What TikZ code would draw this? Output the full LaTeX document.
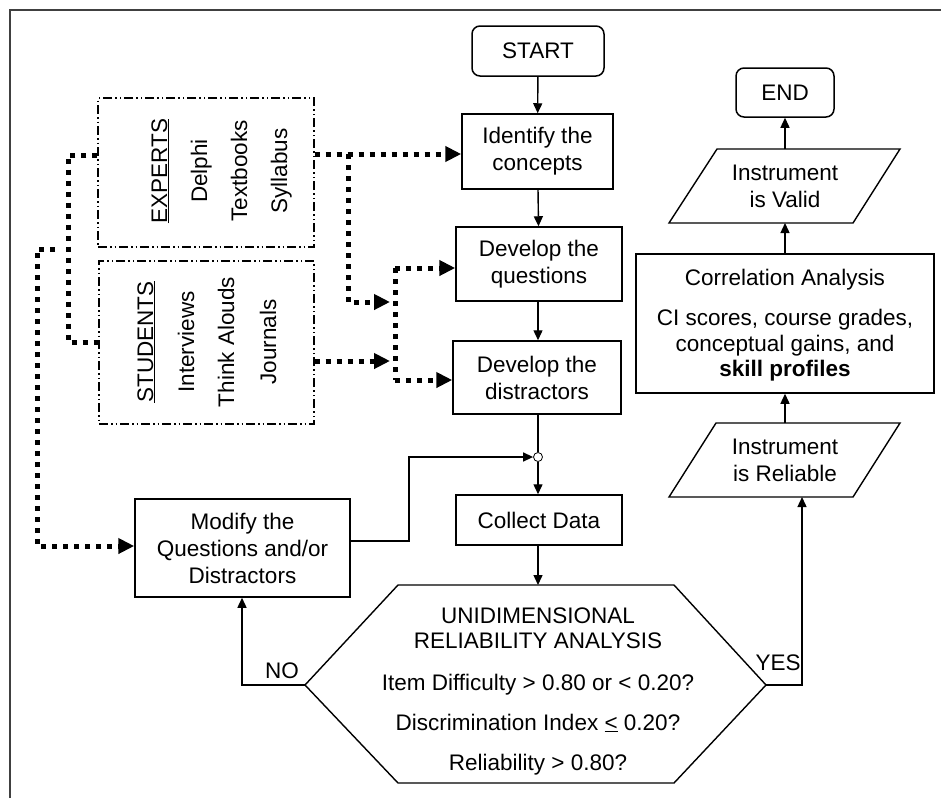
\documentclass[tikz,border=0pt]{standalone}
\usepackage{fontspec}
\setmainfont{Liberation Sans}
\usetikzlibrary{arrows.meta}
\begin{document}
\begin{tikzpicture}[x=1pt,y=-1pt,
  txt/.style={font=\fontsize{22.5}{27}\selectfont, inner sep=0pt, align=center},
  fbox/.style={txt, draw, line width=1.5pt},
  dbox/.style={draw, line width=1.4pt, dash pattern=on 9pt off 3pt on 1.5pt off 3pt on 1.5pt off 3pt},
  conn/.style={line width=1.4pt, -{Triangle[length=10pt,width=9pt]}},
  plainconn/.style={line width=1.4pt},
  dotc/.style={line width=5pt, dash pattern=on 5pt off 6pt},
  dotarr/.style={dotc, -{Triangle[length=16pt,width=15pt]}},
  rtxt/.style={font=\fontsize{22.5}{27}\selectfont, inner sep=0pt, rotate=90, anchor=base},
  shp/.style={draw, line width=1.4pt, line join=miter}
]
\useasboundingbox (0,0) rectangle (941,798);
% frame
\draw[line width=2pt, black!75] (10,798) -- (10,10) -- (941,10);

% left column boxes
\node[fbox, rounded corners=8pt, minimum width=132pt, minimum height=50pt] (start) at (538,51) {START};
\node[fbox, minimum width=151pt, minimum height=75pt] (ident) at (537.5,151.5) {Identify the\\concepts};
\node[fbox, minimum width=166pt, minimum height=74pt] (quest) at (539,264) {Develop the\\questions};
\node[fbox, minimum width=168pt, minimum height=73pt] (distr) at (537,377.5) {Develop the\\distractors};
\node[draw, circle, fill=white, line width=0.8pt, minimum size=9pt, inner sep=0pt] (junc) at (538,457) {};
\node[fbox, minimum width=166pt, minimum height=50pt] (collect) at (539,520) {Collect Data};
\node[fbox, minimum width=215pt, minimum height=98pt] (modify) at (242.5,548) {Modify the\\Questions and/or\\Distractors};

% hexagon
\coordinate (hl) at (305,685);
\coordinate (htl) at (398,585);
\coordinate (htr) at (674,585);
\coordinate (hr) at (766,685);
\coordinate (hbr) at (674,783);
\coordinate (hbl) at (398,783);
\draw[shp] (hl) -- (htl) -- (htr) -- (hr) -- (hbr) -- (hbl) -- cycle;
\coordinate (htop) at (538,585);
\node[txt, anchor=base] (h1) at (538,623) {UNIDIMENSIONAL};
\node[txt, anchor=base] (h2) at (538,648) {RELIABILITY ANALYSIS};
\node[txt, anchor=base] (h3) at (538,690) {Item Difficulty > 0.80 or < 0.20?};
\node[txt, anchor=base] (h4) at (538,730) {Discrimination Index \underline{<} 0.20?};
\node[txt, anchor=base] (h5) at (538,770) {Reliability > 0.80?};

% right column
\node[fbox, rounded corners=8pt, minimum width=98pt, minimum height=49pt] (end) at (785,92.5) {END};
\draw[shp] (717,149) -- (900,149) -- (853,223) -- (669,223) -- cycle;
\node[txt] (valid) at (785,186) {Instrument\\is Valid};
\coordinate (validtop) at (785,149);
\coordinate (validbot) at (785,223);
\node[draw, line width=1.5pt, minimum width=298pt, minimum height=139pt] (corr) at (785,323.5) {};
\node[txt, anchor=base] (c1) at (785,285) {Correlation Analysis};
\node[txt, anchor=base] (c2) at (785,325) {CI scores, course grades,};
\node[txt, anchor=base] (c3) at (785,351) {conceptual gains, and};
\node[txt, anchor=base, font=\fontsize{22.5}{27}\selectfont\bfseries] (c4) at (785,376) {skill profiles};
\draw[shp] (716,423) -- (900,423) -- (853,497) -- (669,497) -- cycle;
\node[txt] (reliable) at (785,460) {Instrument\\is Reliable};
\coordinate (reltop) at (785,423);
\coordinate (relbot) at (802,497);

% solid connectors
\draw[conn] (start) -- (ident);
\draw[conn] (ident) -- (quest);
\draw[conn] (quest.south -| junc) -- (distr.north -| junc);
\draw[plainconn] (distr.south -| junc) -- (junc);
\draw[conn] (junc) -- (collect.north -| junc);
\draw[conn] (collect.south -| junc) -- (htop);
\coordinate (mr) at (350,541);
\draw[conn] (mr) -- (409,541) -- (409,457) -- (junc.west);
\draw[conn] (hl) -- (242,685) -- (modify.south -| 242,0);
\node[txt, anchor=base] (no) at (282,678) {NO};
\draw[conn] (hr) -- (802,685) -- (relbot);
\node[txt, anchor=base] (yes) at (778,670) {YES};
\draw[conn] (reltop) -- (corr.south);
\draw[conn] (corr.north) -- (validbot);
\draw[conn] (validtop) -- (end.south);

% source boxes
\node[dbox, minimum width=216pt, minimum height=149pt, inner sep=0pt] (experts) at (206,172.5) {};
\node[dbox, minimum width=215pt, minimum height=163pt, inner sep=0pt] (students) at (206.5,342.5) {};
\node[rtxt] (e1) at (167,171) {\underline{EXPERTS}};
\node[rtxt] (e2) at (207,171) {Delphi};
\node[rtxt] (e3) at (247,171) {Textbooks};
\node[rtxt] (e4) at (287,171) {Syllabus};
\node[rtxt] (s1) at (153,342) {\underline{STUDENTS}};
\node[rtxt] (s2) at (194,342) {Interviews};
\node[rtxt] (s3) at (234,342) {Think Alouds};
\node[rtxt] (s4) at (276,342) {Journals};

% dotted connectors
\draw[dotc] (experts.west |- 0,155) -- (68,155) -- (68,342) -- (students.west |- 0,342);
\coordinate (loopstart) at (55,249);
\draw[dotarr] (loopstart) -- (37,249) -- (37,546) -- (modify.west |- 0,546);
\draw[dotarr] (experts.east |- 0,154) -- (ident.west |- 0,154);
\draw[dotarr] (348,154) -- (348,302) -- (390,302);
\draw[dotarr] (students.east |- 0,361) -- (390,361);
\draw[dotc] (395,268) -- (395,380);
\draw[dotarr] (395,268) -- (quest.west |- 0,268);
\draw[dotarr] (395,380) -- (distr.west |- 0,380);
\end{tikzpicture}
\end{document}
